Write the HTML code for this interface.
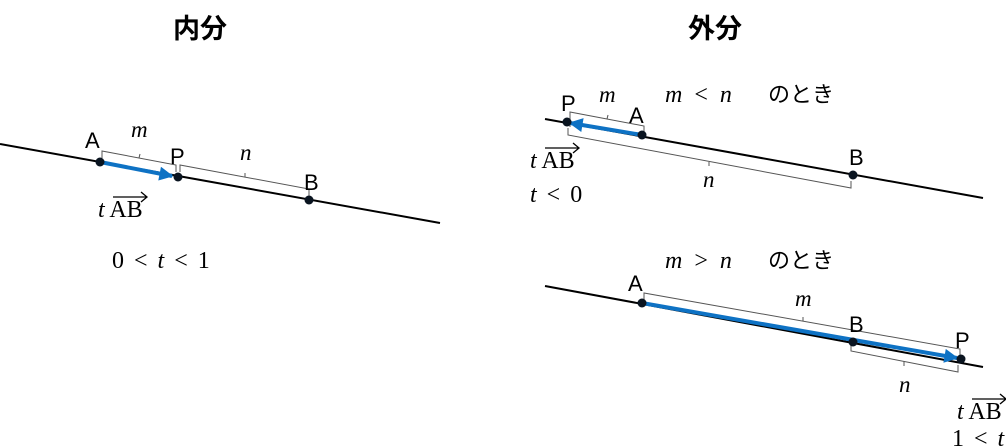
<!DOCTYPE html>
<html><head><meta charset="utf-8"><style>
body{margin:0;background:#fff;width:1006px;height:448px;overflow:hidden}
svg{display:block}
.s{font-family:"Liberation Sans","Noto Sans CJK JP",sans-serif;font-size:22px}
.i{font-family:"Liberation Serif",serif;font-style:italic;font-size:23px}
.r{font-family:"Liberation Serif",serif;font-size:24px}
.j{font-family:"Liberation Sans","Noto Sans CJK JP",sans-serif;font-size:22px}
</style></head><body>
<svg width="1006" height="448" viewBox="0 0 1006 448">
<defs>
<marker id="ah2" viewBox="0 0 10 10" markerWidth="16" markerHeight="14" refX="9" refY="5" orient="auto" markerUnits="userSpaceOnUse"><path d="M0,0 L10,5 L0,10z" fill="#0e72c4"/></marker></defs>
<text x="200" y="38" text-anchor="middle" font-family="Liberation Sans,Noto Sans CJK JP,sans-serif" font-weight="bold" font-size="27">内分</text>
<text x="715" y="38" text-anchor="middle" font-family="Liberation Sans,Noto Sans CJK JP,sans-serif" font-weight="bold" font-size="27">外分</text>
<g stroke="#000" stroke-width="2" fill="none">
<line x1="0" y1="144" x2="440" y2="223"/>
<line x1="545" y1="119" x2="983" y2="198"/>
<line x1="545" y1="286" x2="983" y2="367"/>
</g>
<g stroke="#555" stroke-width="1" fill="none">
<polyline points="102,158 102,151 176,165 176,172"/><line x1="139" y1="158" x2="140" y2="154"/>
<polyline points="180,172 180,165 309,189 309,196"/><line x1="245" y1="177" x2="245" y2="173"/>
<polyline points="570,127 570,112 644,126 644,133"/><line x1="607" y1="119" x2="608" y2="115"/>
<polyline points="568,128 568,135 851,188 851,181"/><line x1="709" y1="162" x2="709" y2="166"/>
<polyline points="644,302 644,293 960,349 960,356"/><line x1="803" y1="321" x2="803" y2="317"/>
<polyline points="851,343 851,351 958,372 958,365"/><line x1="904" y1="361" x2="904" y2="366"/>
</g>
<g stroke="#0e72c4" stroke-width="4" fill="none">
<line x1="100" y1="162" x2="172" y2="176" marker-end="url(#ah2)"/>
<line x1="642" y1="135" x2="570" y2="123" marker-end="url(#ah2)"/>
<line x1="642" y1="303" x2="957" y2="358" marker-end="url(#ah2)"/>
</g>
<g fill="#0a1420">
<circle cx="100" cy="162" r="4.5"/><circle cx="178" cy="177" r="4.5"/><circle cx="309" cy="200" r="4.5"/>
<circle cx="567" cy="122" r="4.5"/><circle cx="642" cy="135" r="4.5"/><circle cx="853" cy="175" r="4.5"/>
<circle cx="642" cy="303" r="4.5"/><circle cx="853" cy="342" r="4.5"/><circle cx="961" cy="359" r="4.5"/>
</g>
<g class="s">
<text x="85" y="148">A</text><text x="170" y="164">P</text><text x="304" y="190">B</text>
<text x="561" y="111">P</text><text x="629" y="123">A</text><text x="849" y="165">B</text>
<text x="628" y="291">A</text><text x="849" y="332">B</text><text x="955" y="348">P</text>
</g>
<g class="i">
<text x="131" y="137">m</text><text x="240" y="160">n</text>
<text x="599" y="102">m</text><text x="703" y="187">n</text>
<text x="795" y="306">m</text><text x="899" y="392">n</text>
</g>
<g class="r">
<text x="98" y="217"><tspan font-style="italic">t</tspan> AB</text><path d="M113,197 h34 m-6,-5 l6,5 l-6,5" stroke="#000" stroke-width="1.3" fill="none"/>
<text x="112" y="268" word-spacing="4">0 &lt; <tspan font-style="italic">t</tspan> &lt; 1</text>
<text x="530" y="168"><tspan font-style="italic">t</tspan> AB</text><path d="M545,148 h34 m-6,-5 l6,5 l-6,5" stroke="#000" stroke-width="1.3" fill="none"/>
<text x="530" y="202" word-spacing="4"><tspan font-style="italic">t</tspan> &lt; 0</text>
<text x="957" y="419"><tspan font-style="italic">t</tspan> AB</text><path d="M972,399 h34 m-6,-5 l6,5 l-6,5" stroke="#000" stroke-width="1.3" fill="none"/>
<text x="952" y="446" word-spacing="4">1 &lt; <tspan font-style="italic">t</tspan></text>
</g>
<text x="665" y="102" class="r" word-spacing="6"><tspan font-style="italic">m</tspan> &lt; <tspan font-style="italic">n</tspan></text>
<text x="768" y="102" class="j">のとき</text>
<text x="665" y="268" class="r" word-spacing="6"><tspan font-style="italic">m</tspan> &gt; <tspan font-style="italic">n</tspan></text>
<text x="768" y="268" class="j">のとき</text>
</svg>
</body></html>
